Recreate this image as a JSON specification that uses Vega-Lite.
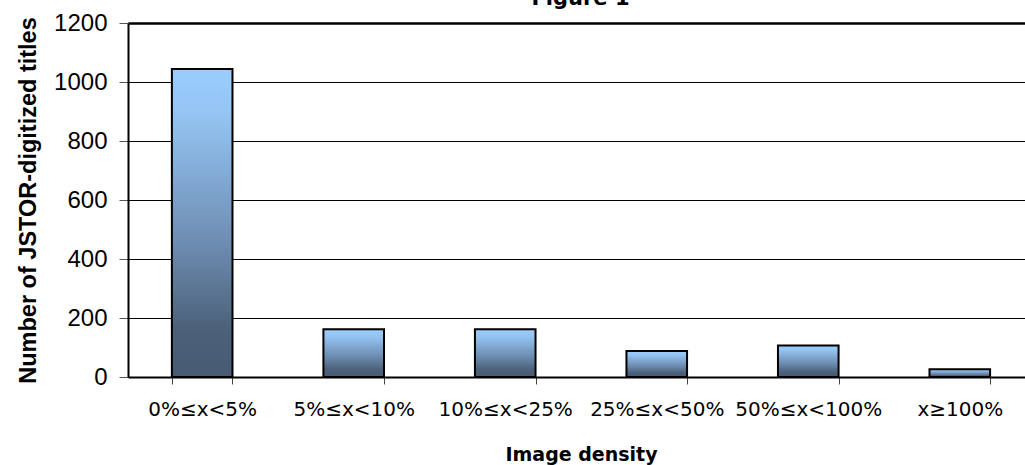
{
  "$schema": "https://vega.github.io/schema/vega-lite/v6.json",
  "description": "Figure 1: number of JSTOR-digitized titles by image density.",
  "autosize": "none",
  "width": 897,
  "height": 354,
  "padding": {"left": 128, "top": 23, "right": 0, "bottom": 88},
  "background": "white",
  "title": {
    "text": "Figure 1",
    "font": "DejaVu Sans",
    "fontSize": 21,
    "fontWeight": "bold",
    "color": "black",
    "anchor": "middle",
    "frame": "group",
    "baseline": "alphabetic",
    "offset": -15,
    "dx": 4
  },
  "data": {
    "values": [
      {"density": "0%≤x<5%", "titles": 1044},
      {"density": "5%≤x<10%", "titles": 162},
      {"density": "10%≤x<25%", "titles": 162},
      {"density": "25%≤x<50%", "titles": 88},
      {"density": "50%≤x<100%", "titles": 107},
      {"density": "x≥100%", "titles": 26}
    ]
  },
  "config": {
    "view": {"stroke": null}
  },
  "mark": {
    "type": "bar",
    "stroke": "black",
    "strokeWidth": 2,
    "color": {
      "gradient": "linear",
      "x1": 0, "y1": 0, "x2": 0, "y2": 1,
      "stops": [
        {"offset": 0, "color": "#9ACDFE"},
        {"offset": 0.15, "color": "#94C4F2"},
        {"offset": 0.55, "color": "#6F8FB4"},
        {"offset": 0.85, "color": "#4B6079"},
        {"offset": 1, "color": "#475B73"}
      ]
    }
  },
  "encoding": {
    "x": {
      "field": "density",
      "type": "nominal",
      "sort": null,
      "scale": {"paddingInner": 0.6, "paddingOuter": 0.26, "align": 0.557},
      "axis": {
        "title": "Image density",
        "titleFont": "DejaVu Sans",
        "titleFontSize": 19,
        "titleFontWeight": "bold",
        "titleColor": "black",
        "titleBaseline": "alphabetic",
        "titleY": 83,
        "titleX": 453,
        "labelAngle": 0,
        "labelFont": "DejaVu Sans",
        "labelFontSize": 20,
        "labelColor": "black",
        "labelBaseline": "top",
        "labelPadding": 15,
        "tickBand": "extent",
        "tickSize": 7,
        "tickColor": "#444",
        "domainColor": "black",
        "domainWidth": 2,
        "grid": false
      }
    },
    "y": {
      "field": "titles",
      "type": "quantitative",
      "scale": {"domain": [0, 1200], "nice": false},
      "axis": {
        "title": "Number of JSTOR-digitized titles",
        "titleFont": "Liberation Sans",
        "titleFontSize": 23.5,
        "titleFontWeight": "bold",
        "titleColor": "black",
        "titleAngle": -90,
        "titleBaseline": "middle",
        "titleAlign": "center",
        "titleX": -100,
        "titleY": 177,
        "values": [0, 200, 400, 600, 800, 1000, 1200],
        "format": "d",
        "labelFont": "Liberation Sans",
        "labelFontSize": 24,
        "labelColor": "black",
        "labelPadding": 12,
        "tickSize": 9,
        "tickColor": "#555",
        "domainColor": "black",
        "domainWidth": 2,
        "grid": true,
        "gridColor": "black",
        "gridOpacity": 1,
        "gridWidth": {"condition": {"test": "datum.value === 1200", "value": 2.5}, "value": 1}
      }
    }
  }
}
